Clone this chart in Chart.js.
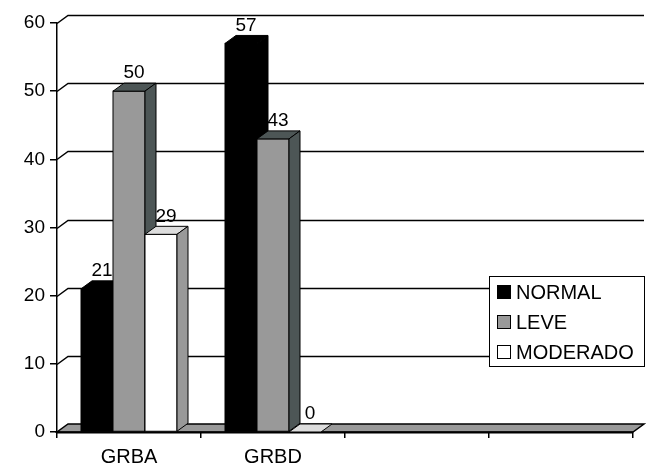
<!DOCTYPE html>
<html>
<head>
<meta charset="utf-8">
<script src="https://cdn.jsdelivr.net/npm/chart.js@4/dist/chart.umd.min.js"></script>
<style>
  html, body { margin: 0; padding: 0; background: #ffffff; }
  canvas { display: block; }
</style>
</head>
<body>
<canvas id="c" width="661" height="464"></canvas>
<script>
// Categories along the floor (two trailing empty slots)
const categories = ['GRBA', 'GRBD', '', ''];
// Series values, one value per category
const normalValues = [21, 57, null, null];
const leveValues = [50, 43, null, null];
const moderadoValues = [29, 0, null, null];
const seriesNames = ['NORMAL', 'LEVE', 'MODERADO'];
// Value axis ticks
const yTicks = [0, 10, 20, 30, 40, 50, 60];

// Face colours for each series: front, top, side
const frontColors = ['#000000', '#999999', '#ffffff'];
const topColors = ['#000000', '#4d5656', '#dddddd'];
const sideColors = ['#000000', '#4d5656', '#999999'];

const FONT = "'Liberation Sans', Arial, sans-serif";
const DEPTH = { dx: 11, dy: -8 };

const box3d = {
  id: 'box3d',
  beforeDatasetsDraw(chart) {
    const ctx = chart.ctx;
    const area = chart.chartArea;
    const y = chart.scales.y;
    const { dx, dy } = DEPTH;
    ctx.save();
    ctx.lineJoin = 'miter';

    // back wall gridlines and the side wall diagonals
    ctx.strokeStyle = '#000000';
    ctx.lineWidth = 1.5;
    yTicks.forEach(v => {
      if (v === 0) return;
      const py = Math.round(y.getPixelForValue(v)) + 0.5;
      ctx.beginPath();
      ctx.moveTo(area.left, py);
      ctx.lineTo(area.left + dx, py + dy);
      ctx.lineTo(area.right + dx, py + dy);
      ctx.stroke();
    });

    // floor slab
    const fy = y.getPixelForValue(0);
    ctx.beginPath();
    ctx.moveTo(area.left, fy);
    ctx.lineTo(area.right, fy);
    ctx.lineTo(area.right + dx, fy + dy);
    ctx.lineTo(area.left + dx, fy + dy);
    ctx.closePath();
    ctx.fillStyle = '#999999';
    ctx.fill();
    ctx.lineWidth = 1.5;
    ctx.stroke();
    ctx.beginPath();
    ctx.moveTo(area.left, fy + 0.5);
    ctx.lineTo(area.right, fy + 0.5);
    ctx.lineWidth = 2;
    ctx.stroke();

    // bars, painted left to right so nearer faces cover hidden ones
    const metas = chart.data.datasets.map((d, i) => chart.getDatasetMeta(i));
    ctx.lineWidth = 1;
    categories.forEach((cat, j) => {
      metas.forEach((meta, i) => {
        const val = chart.data.datasets[i].data[j];
        if (val === null || val === undefined) return;
        const el = meta.data[j];
        const x0 = el.x - el.width / 2;
        const x1 = el.x + el.width / 2;
        const top = el.y;
        const base = el.base;
        // front face
        if (base - top > 0) {
          ctx.fillStyle = frontColors[i];
          ctx.fillRect(x0, top, x1 - x0, base - top);
          ctx.strokeStyle = '#000000';
          ctx.strokeRect(x0, top, x1 - x0, base - top);
        }
        // top face
        ctx.beginPath();
        ctx.moveTo(x0, top);
        ctx.lineTo(x1, top);
        ctx.lineTo(x1 + dx, top + dy);
        ctx.lineTo(x0 + dx, top + dy);
        ctx.closePath();
        ctx.fillStyle = topColors[i];
        ctx.fill();
        ctx.stroke();
        // side face
        if (base - top > 0) {
          ctx.beginPath();
          ctx.moveTo(x1, top);
          ctx.lineTo(x1 + dx, top + dy);
          ctx.lineTo(x1 + dx, base + dy);
          ctx.lineTo(x1, base);
          ctx.closePath();
          ctx.fillStyle = sideColors[i];
          ctx.fill();
          ctx.stroke();
        }
      });
    });

    // value labels
    ctx.fillStyle = '#000000';
    ctx.font = '19px ' + FONT;
    ctx.textAlign = 'center';
    ctx.textBaseline = 'middle';
    metas.forEach((meta, i) => {
      chart.data.datasets[i].data.forEach((val, j) => {
        if (val === null || val === undefined) return;
        const el = meta.data[j];
        ctx.fillText(String(val), el.x + 5, el.y - 18);
      });
    });
    ctx.restore();
    return false;
  },
  afterDraw(chart) {
    // legend box
    const ctx = chart.ctx;
    ctx.save();
    const lx = 489.5, ly = 276.5, lw = 155, lh = 90;
    ctx.fillStyle = '#ffffff';
    ctx.fillRect(lx, ly, lw, lh);
    ctx.strokeStyle = '#000000';
    ctx.lineWidth = 1;
    ctx.strokeRect(lx, ly, lw, lh);
    ctx.font = '20px ' + FONT;
    ctx.textAlign = 'left';
    ctx.textBaseline = 'middle';
    seriesNames.forEach((name, i) => {
      const cy = 292 + i * 30;
      ctx.fillStyle = frontColors[i];
      ctx.fillRect(497.5, cy - 6.5, 13, 13);
      ctx.strokeRect(497.5, cy - 6.5, 13, 13);
      ctx.fillStyle = '#000000';
      ctx.fillText(name, 516, cy + 1);
    });
    ctx.restore();
  }
};

new Chart(document.getElementById('c'), {
  type: 'bar',
  data: {
    labels: categories,
    datasets: [
      { label: seriesNames[0], data: normalValues, backgroundColor: frontColors[0] },
      { label: seriesNames[1], data: leveValues, backgroundColor: frontColors[1] },
      { label: seriesNames[2], data: moderadoValues, backgroundColor: frontColors[2] }
    ]
  },
  options: {
    responsive: false,
    animation: false,
    devicePixelRatio: 1,
    layout: { padding: { top: 23, right: 28, left: 0, bottom: 0 } },
    datasets: { bar: { categoryPercentage: 2 / 3, barPercentage: 1 } },
    plugins: { legend: { display: false }, tooltip: { enabled: false } },
    scales: {
      x: {
        offset: true,
        grid: { display: true, drawOnChartArea: false, drawTicks: true, tickLength: 6, offset: true, color: '#000000', lineWidth: 1.5 },
        border: { display: false },
        ticks: { color: '#000000', font: { family: FONT, size: 20 }, padding: 7, maxRotation: 0, autoSkip: false },
        afterFit(scale) { scale.height = 32; }
      },
      y: {
        min: 0,
        max: 60,
        grid: { display: true, drawOnChartArea: false, drawTicks: true, tickLength: 7, color: '#000000', lineWidth: 1.5 },
        border: { display: true, color: '#000000', width: 1.5 },
        ticks: { stepSize: 10, color: '#000000', font: { family: FONT, size: 19 }, padding: 5 },
        afterFit(scale) { scale.width = 57; }
      }
    }
  },
  plugins: [box3d]
});
</script>
</body>
</html>
